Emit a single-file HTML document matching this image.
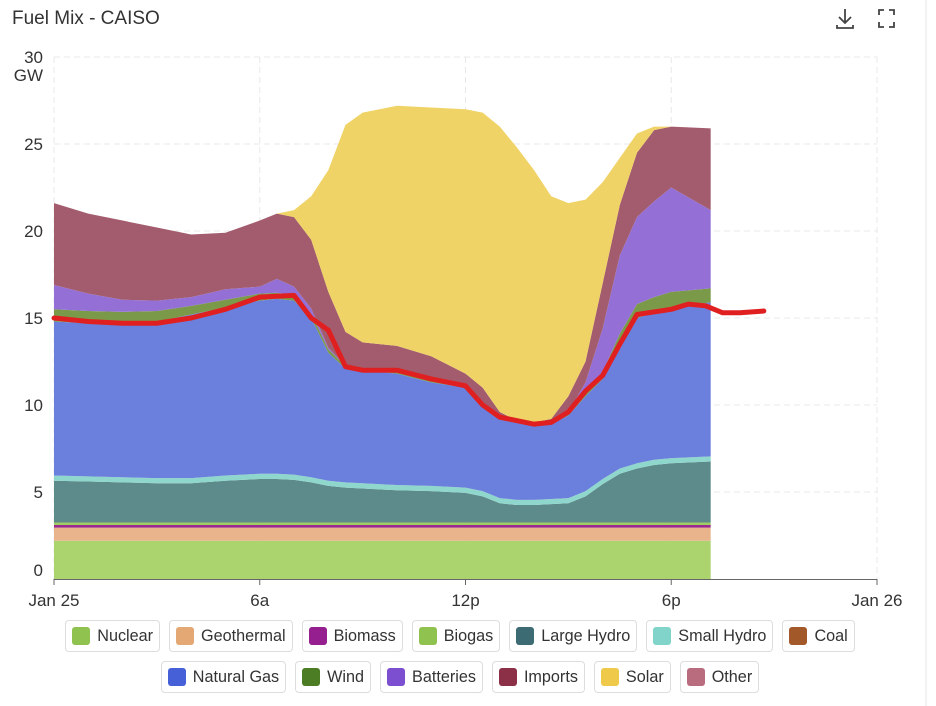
<!DOCTYPE html>
<html><head><meta charset="utf-8"><style>
body{margin:0;width:936px;height:706px;background:#fff;font-family:"Liberation Sans",sans-serif;overflow:hidden;position:relative}
.title{position:absolute;left:12px;top:8px;font-size:19px;color:#333}
.legend{position:absolute;left:0;width:920px;display:flex;justify-content:center;gap:9px}
.li{border:1px solid #ddd;border-radius:4px;height:32px;padding:0 6px 0 6px;display:flex;align-items:center;font-size:16.2px;color:#333;box-sizing:border-box}
.sw{width:18px;height:18px;border-radius:3px;margin-right:7px}
</style></head><body>
<div class="title">Fuel Mix - CAISO</div>
<svg width="936" height="706" style="position:absolute;left:0;top:0" id="svg">
<line x1="926" y1="0" x2="926" y2="706" stroke="#e6e6e6"/>
<g stroke="#444" stroke-width="1.8" fill="none"><path d="M845 9v14M839 17l6 6 6-6M837 25v3h16v-3"/></g>
<g stroke="#444" stroke-width="1.8" fill="none"><path d="M879 15v-5h5M889 10h5v5M894 22v5h-5M884 27h-5v-5"/></g>
<g id="grid"></g><g id="areas"></g><g id="line"></g><g id="axes"></g>
</svg>
<div class="legend" style="top:620px" id="leg1"></div>
<div class="legend" style="top:661px" id="leg2"></div>
<script>
const times=[0,1,2,3,4,5,6,6.5,7,7.5,8,8.5,9,10,11,12,12.5,13,13.5,14,14.5,15,15.5,16,16.5,17,17.5,18,19.15];
const nuclear=[2.2,2.2,2.2,2.2,2.2,2.2,2.2,2.2,2.2,2.2,2.2,2.2,2.2,2.2,2.2,2.2,2.2,2.2,2.2,2.2,2.2,2.2,2.2,2.2,2.2,2.2,2.2,2.2,2.2];
const geothermal=[0.75,0.75,0.75,0.75,0.75,0.75,0.75,0.75,0.75,0.75,0.75,0.75,0.75,0.75,0.75,0.75,0.75,0.75,0.75,0.75,0.75,0.75,0.75,0.75,0.75,0.75,0.75,0.75,0.75];
const biomass=[0.15,0.15,0.15,0.15,0.15,0.15,0.15,0.15,0.15,0.15,0.15,0.15,0.15,0.15,0.15,0.15,0.15,0.15,0.15,0.15,0.15,0.15,0.15,0.15,0.15,0.15,0.15,0.15,0.15];
const biogas=[0.15,0.15,0.15,0.15,0.15,0.15,0.15,0.15,0.15,0.15,0.15,0.15,0.15,0.15,0.15,0.15,0.15,0.15,0.15,0.15,0.15,0.15,0.15,0.15,0.15,0.15,0.15,0.15,0.15];
const largeHydro=[2.4,2.35,2.3,2.25,2.25,2.4,2.5,2.5,2.45,2.3,2.1,2.0,1.95,1.85,1.8,1.7,1.5,1.1,1.0,1.0,1.05,1.1,1.5,2.2,2.8,3.1,3.3,3.4,3.5];
const smallHydro=[0.3,0.3,0.3,0.3,0.3,0.3,0.3,0.3,0.3,0.3,0.3,0.3,0.3,0.3,0.3,0.3,0.3,0.3,0.3,0.3,0.3,0.3,0.3,0.3,0.3,0.3,0.3,0.3,0.3];
const naturalGas=[8.85,8.8,8.85,9.0,9.4,9.65,9.95,10.05,10.0,9.15,7.35,6.55,6.5,6.4,5.95,5.75,4.95,4.65,4.45,4.35,4.3,4.75,5.45,5.75,7.15,8.35,8.45,8.65,8.85];
const wind=[0.7,0.7,0.65,0.6,0.5,0.45,0.4,0.35,0.3,0.25,0.2,0.15,0.1,0.1,0.1,0.1,0.1,0.1,0.1,0.1,0.1,0.15,0.3,0.4,0.6,0.8,0.9,0.9,0.8];
const batteries=[1.4,1.0,0.7,0.6,0.5,0.6,0.4,0.8,0.5,0.3,0.1,0,0,0,0,0,0,0,0,0,0,0.05,0.5,2.5,4.5,5.0,5.5,6.0,4.5];
const imports=[4.7,4.6,4.55,4.2,3.6,3.25,3.8,3.75,4.0,3.95,3.2,1.95,1.5,1.5,1.4,0.7,0.9,0.2,0,0,0.2,0.9,1.2,2.6,2.9,3.7,4.1,3.5,4.7];
const solar=[0,0,0,0,0,0,0,0,0.4,2.5,7.0,11.9,13.2,13.8,14.3,15.2,15.8,16.4,15.7,14.5,12.8,11.1,9.3,5.8,2.7,1.1,0.2,0,0];
const lineTimes=[0,1,2,3,4,5,6,7,7.5,8,8.5,9,10,11,12,12.5,13,14,14.5,15,15.5,16,16.5,17,18,18.5,19,19.5,20,20.7];
const lineValues=[15.0,14.8,14.7,14.7,15.0,15.5,16.2,16.3,15.0,14.3,12.2,12.0,12.0,11.5,11.1,10.0,9.3,8.9,9.0,9.6,10.8,11.7,13.5,15.2,15.5,15.8,15.7,15.3,15.3,15.4];
const yTicks=[0,5,10,15,20,25,30];
const xTickHours=[0,6,12,18,24];
const xTickLabels=["Jan 25","6a","12p","6p","Jan 26"];
const series=[["Nuclear",nuclear,"#acd46e"],["Geothermal",geothermal,"#e9b48c"],["Biomass",biomass,"#9a2a8e"],["Biogas",biogas,"#a0cc66"],["Large Hydro",largeHydro,"#5d8a8a"],["Small Hydro",smallHydro,"#8fd6cc"],["Natural Gas",naturalGas,"#6b7fdc"],["Wind",wind,"#7a9a4a"],["Batteries",batteries,"#9470d6"],["Imports",imports,"#a35c6e"],["Solar",solar,"#f0d366"]];
const legendRows=[[["Nuclear","#8fc24f"],["Geothermal","#e3a874"],["Biomass","#951f8f"],["Biogas","#8fc24f"],["Large Hydro","#3c6b74"],["Small Hydro","#80d4c9"],["Coal","#a3582a"]],[["Natural Gas","#4660d8"],["Wind","#4c7d25"],["Batteries","#7c4fd0"],["Imports","#8b3047"],["Solar","#efca4a"],["Other","#b86c7e"]]];
const X=h=>54+h*(877-54)/24, Y=v=>579-v*17.4;
const NS="http://www.w3.org/2000/svg";
function mk(tag,attrs,parent){const e=document.createElementNS(NS,tag);for(const k in attrs)e.setAttribute(k,attrs[k]);parent.appendChild(e);return e;}
const grid=document.getElementById('grid'),areas=document.getElementById('areas'),ln=document.getElementById('line'),axes=document.getElementById('axes');
yTicks.forEach(v=>{if(v>0){const g=mk('line',{x1:54,x2:877,y1:Y(v),y2:Y(v),stroke:'#e8e8e8','stroke-dasharray':'6,4'},grid);

}
const t=mk('text',{x:43,y:v==0?Y(v)-3:Y(v)+6,'text-anchor':'end','font-size':17,fill:'#333','font-family':'Liberation Sans, sans-serif'},axes);t.textContent=v;

});
const gw=mk('text',{x:43,y:Y(30)+24,'text-anchor':'end','font-size':17,fill:'#333','font-family':'Liberation Sans, sans-serif'},axes);gw.textContent='GW';


xTickHours.forEach((h,i)=>{const g=mk('line',{x1:X(h),x2:X(h),y1:Y(30),y2:579,stroke:'#e8e8e8','stroke-dasharray':'6,4'},grid);


const tk=mk('line',{x1:X(h),x2:X(h),y1:579,y2:585,stroke:'#666'},axes);


const t=mk('text',{x:X(h),y:606,'text-anchor':'middle','font-size':17,fill:'#333','font-family':'Liberation Sans, sans-serif'},axes);t.textContent=xTickLabels[i];

});
const ax=mk('line',{x1:54,x2:877,y1:579.5,y2:579.5,stroke:'#666'},axes);


let base=times.map(()=>0);
series.forEach(([name,vals,col])=>{const top=base.map((b,i)=>b+vals[i]);
let d='M'+times.map((t,i)=>X(t)+','+Y(top[i])).join('L');
for(let i=times.length-1;i>=0;i--)d+='L'+X(times[i])+','+Y(base[i]);
const p=mk('path',{d:d+'Z',fill:col},areas);


base=top;});
const lp=mk('path',{d:'M'+lineTimes.map((t,i)=>X(t)+','+Y(lineValues[i])).join('L'),fill:'none',stroke:'#e02020','stroke-width':5,'stroke-linejoin':'round','stroke-linecap':'round'},ln);


legendRows.forEach((row,r)=>{const c=document.getElementById(r?'leg2':'leg1');row.forEach(([n,col])=>{const d=document.createElement('div');d.className='li';


d.innerHTML='<div class="sw" style="background:'+col+'"></div>'+n;c.appendChild(d);});});
</script>
</body></html>
